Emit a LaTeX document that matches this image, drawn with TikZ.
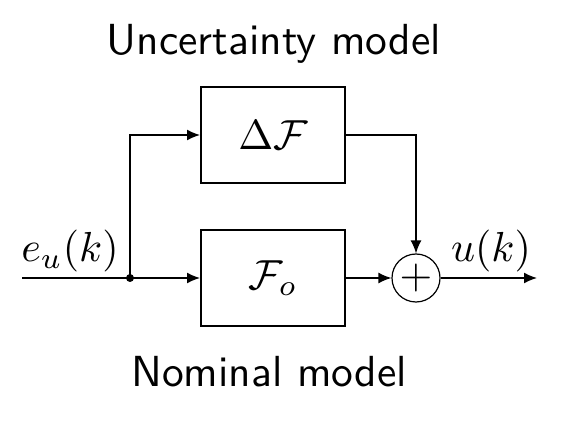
\documentclass[tikz,border=0pt]{standalone}
\usepackage{graphicx}
\usetikzlibrary{arrows.meta}
\newcommand{\bigtxt}[1]{\scalebox{4.2}{#1}}
\newcommand{\bigsf}[1]{\scalebox{4.35}{#1}}
\begin{document}
\begin{tikzpicture}[x=1pt,y=-1pt,
  blk/.style={draw,line width=2pt,minimum width=144pt,minimum height=96pt,inner sep=0pt},
  sumc/.style={draw,circle,line width=1.2pt,minimum size=48pt,inner sep=0pt},
  conn/.style={line width=1.5pt},
  arr/.style={conn,-{Latex[length=13pt,width=11pt]}},
  lbl/.style={inner sep=0pt},
  lblsf/.style={inner sep=0pt,font=\sffamily}]
\useasboundingbox (0,0) rectangle (573,427);
\node[blk] (df) at (273,135) {\bigtxt{$\Delta\mathcal{F}$}};
\node[blk] (fo) at (273,278) {\bigtxt{$\mathcal{F}_o$}};
\node[sumc] (sum) at (416,278) {\bigtxt{$+$}};
\coordinate (in) at (22,278);
\coordinate (br) at (130,278);
\coordinate (out) at (537,278);
\draw[conn] (in) -- (br);
\fill (br) circle (4pt);
\draw[arr] (br) -- (fo.west);
\draw[arr] (br) |- (df.west);
\draw[arr] (df.east) -| (sum.north);
\draw[arr] (fo.east) -- (sum.west);
\draw[arr] (sum.east) -- (out);
\node[lbl,anchor=base] (eu) at (70,262) {\bigtxt{$e_u(k)$}};
\node[lbl,anchor=base] (uk) at (491,262) {\bigtxt{$u(k)$}};
\node[lblsf,anchor=base] (unc) at (274,55) {\bigsf{Uncertainty model}};
\node[lblsf,anchor=base] (nom) at (269,387) {\bigsf{Nominal model}};
\end{tikzpicture}
\end{document}
